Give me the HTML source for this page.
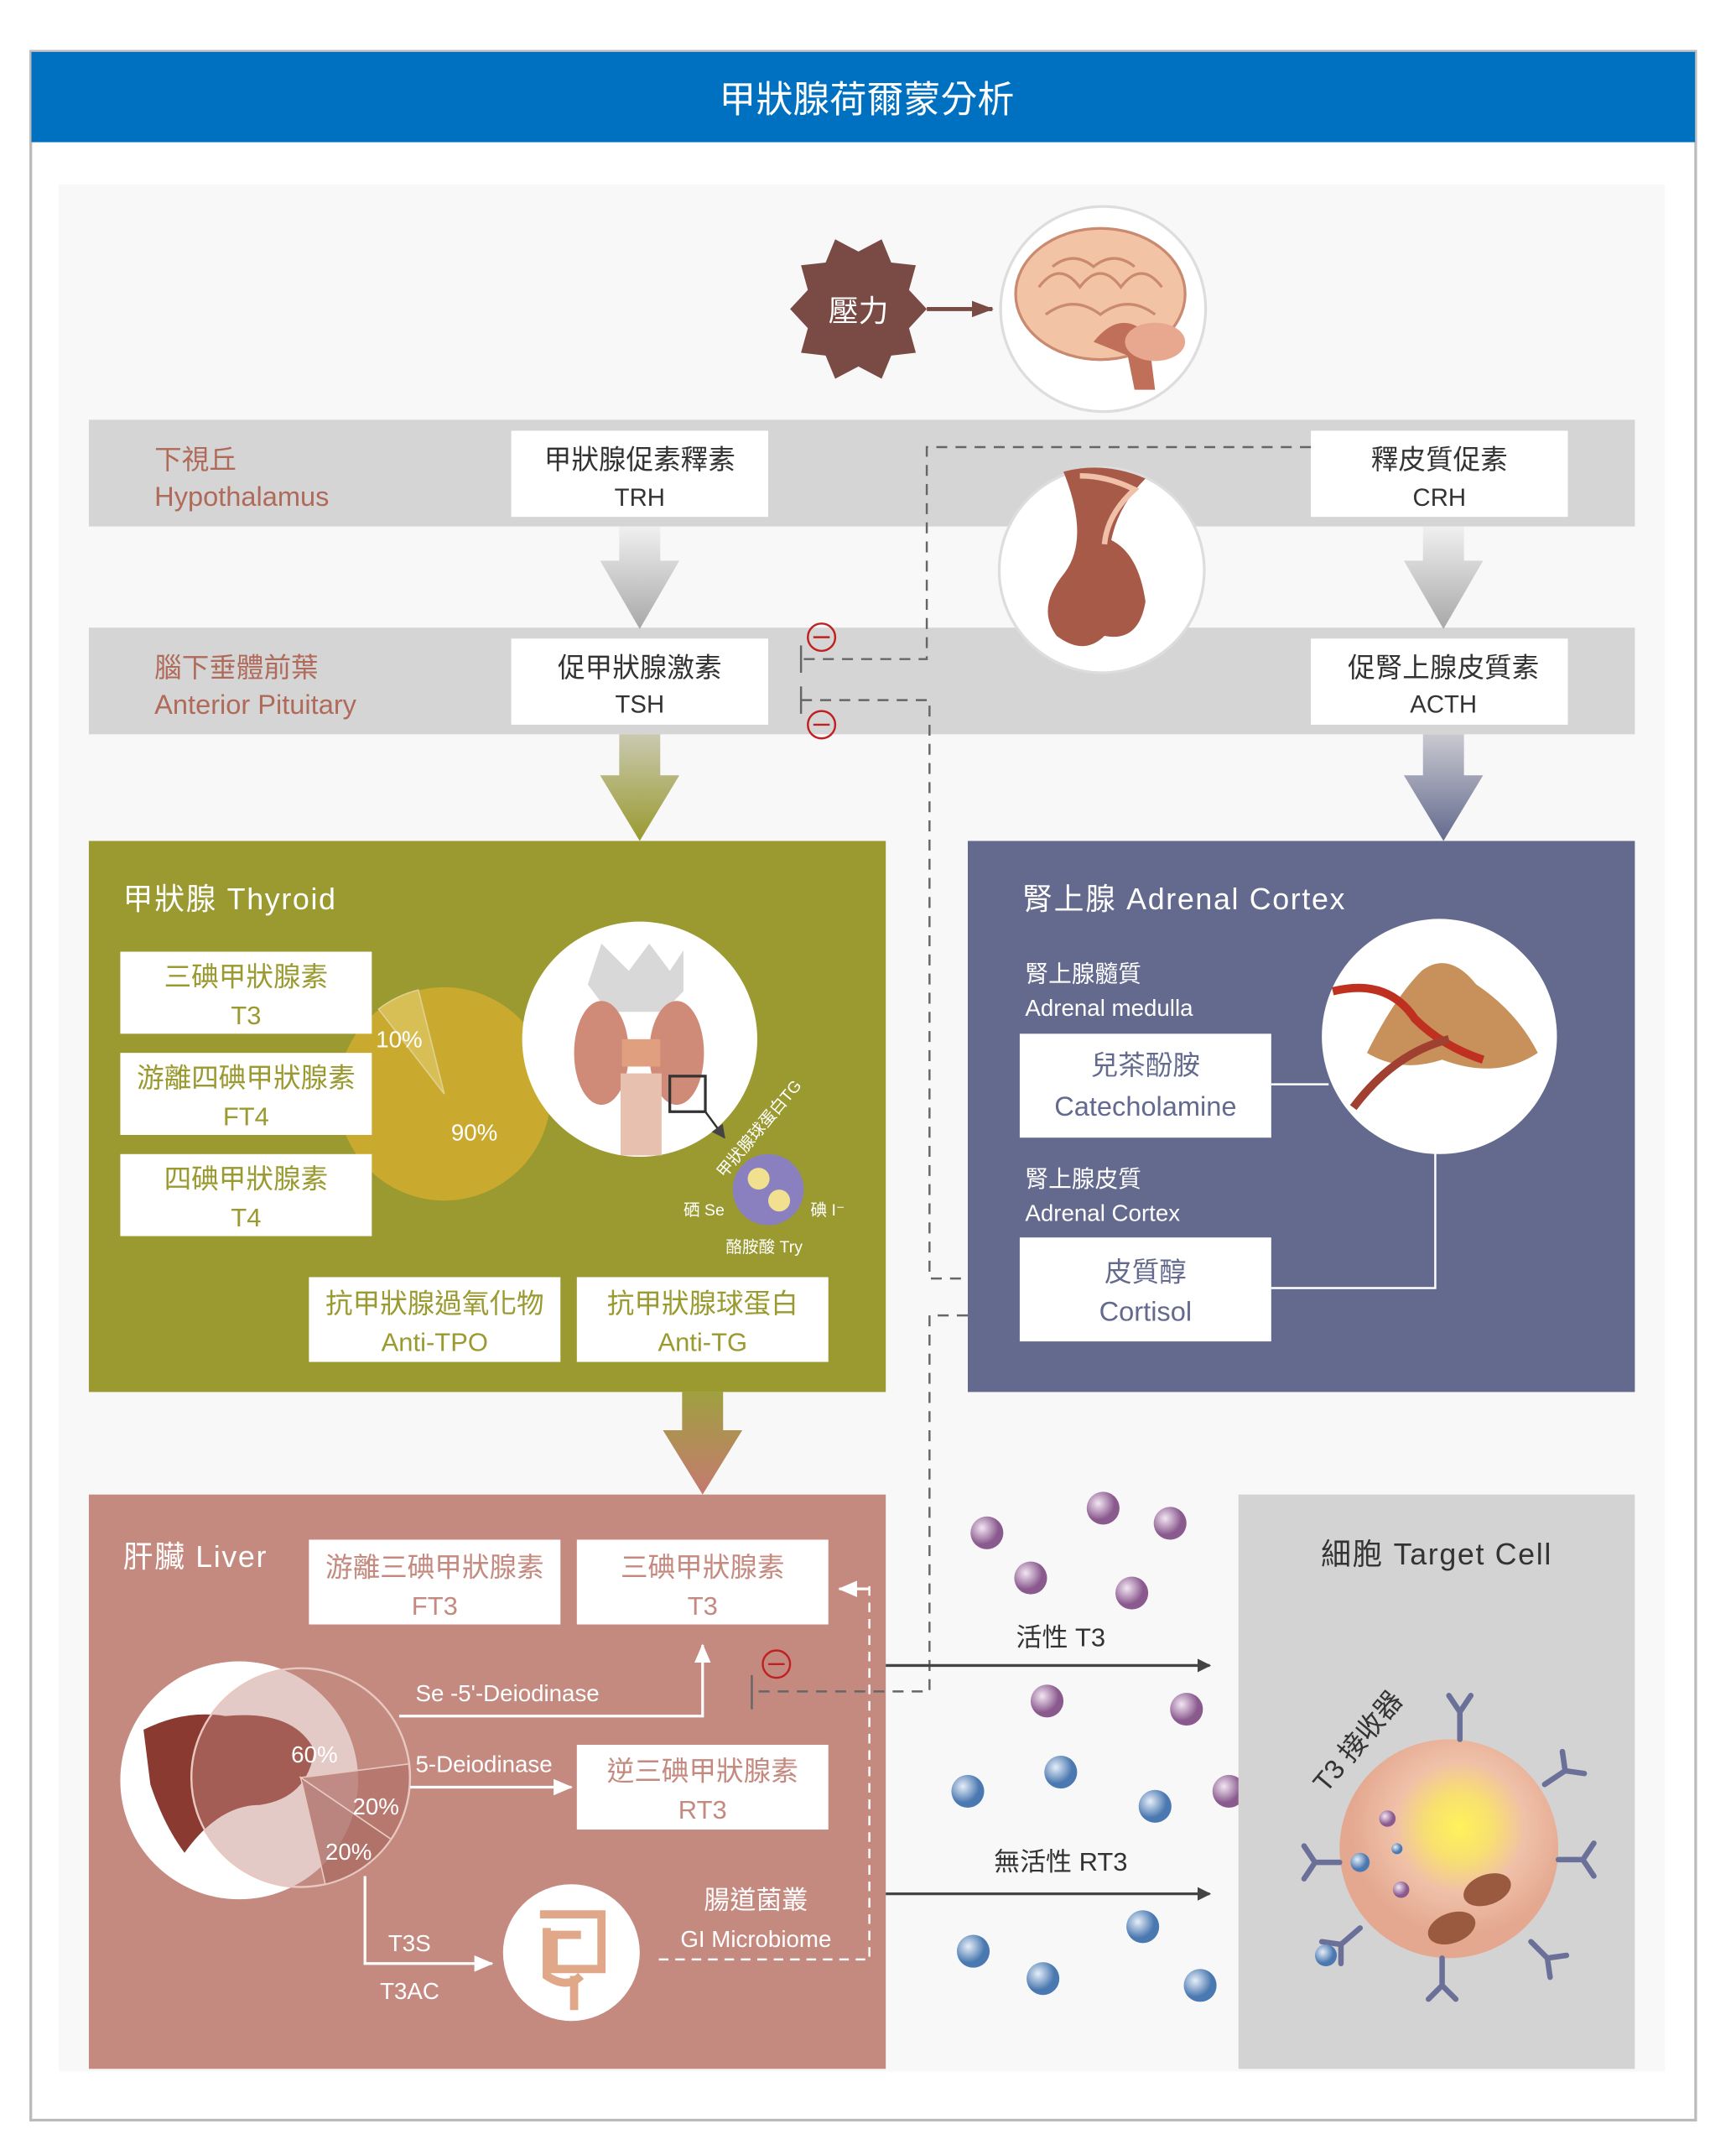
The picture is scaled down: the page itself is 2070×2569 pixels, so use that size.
<!DOCTYPE html>
<html><head><meta charset="utf-8"><style>
html,body{margin:0;padding:0;background:#fff}
svg{display:block}
text{font-family:"Liberation Sans","Noto Sans CJK TC",sans-serif}
</style></head><body>
<svg width="2070" height="2569" viewBox="0 0 1270 1576" preserveAspectRatio="none" xmlns="http://www.w3.org/2000/svg">
<defs>
<linearGradient id="g1" x1="0" y1="0" x2="0" y2="1"><stop offset="0" stop-color="#f0f0f0"/><stop offset="1" stop-color="#a8a8a8"/></linearGradient>
<linearGradient id="g2" x1="0" y1="0" x2="0" y2="1"><stop offset="0" stop-color="#c9c9b0"/><stop offset="1" stop-color="#9a9a30"/></linearGradient>
<linearGradient id="g3" x1="0" y1="0" x2="0" y2="1"><stop offset="0" stop-color="#c9c9d0"/><stop offset="1" stop-color="#636a8e"/></linearGradient>
<linearGradient id="g4" x1="0" y1="0" x2="0" y2="1"><stop offset="0" stop-color="#a0a040"/><stop offset="1" stop-color="#c47a70"/></linearGradient>
<radialGradient id="pp" cx="0.35" cy="0.35"><stop offset="0" stop-color="#f3e6f3"/><stop offset="1" stop-color="#8a5a8e"/></radialGradient>
<radialGradient id="bb" cx="0.35" cy="0.35"><stop offset="0" stop-color="#e6eef8"/><stop offset="1" stop-color="#4a78b0"/></radialGradient>
<radialGradient id="cell" cx="0.55" cy="0.4"><stop offset="0" stop-color="#fff25a"/><stop offset="0.3" stop-color="#f8e070"/><stop offset="0.6" stop-color="#f0c0a8"/><stop offset="1" stop-color="#e4a890"/></radialGradient>
<marker id="ah" markerWidth="10" markerHeight="10" refX="9" refY="5" orient="auto" markerUnits="userSpaceOnUse"><path d="M0,0 L10,5 L0,10 Z" fill="#444"/></marker>
<marker id="aw" markerWidth="14" markerHeight="12" refX="13" refY="6" orient="auto" markerUnits="userSpaceOnUse"><path d="M0,0 L14,6 L0,12 Z" fill="#fff"/></marker>
<marker id="ab" markerWidth="16" markerHeight="12" refX="15" refY="6" orient="auto" markerUnits="userSpaceOnUse"><path d="M0,0 L16,6 L0,12 Z" fill="#7a4a45"/></marker>
</defs>
<rect x="0" y="0" width="1270" height="1576" fill="#fff"/>
<rect x="22.5" y="37.5" width="1218" height="1513" fill="#fff" stroke="#bbb" stroke-width="2"/>
<rect x="23" y="38" width="1217" height="66" fill="#0070c0"/>
<text x="634" y="82" font-size="27" fill="#fff" text-anchor="middle">甲狀腺荷爾蒙分析</text>
<rect x="43" y="135" width="1175" height="1380" fill="#f8f8f8"/>

<polygon fill="#7a4a45" points="678,226 665,240 670,258 652,260 645,277 628,268 611,277 604,260 586,258 591,240 578,226 591,212 586,194 604,192 611,175 628,184 645,175 652,192 670,194 665,212"/>
<text x="628" y="235" font-size="22" fill="#fff" text-anchor="middle">壓力</text>
<line x1="678" y1="226" x2="726" y2="226" stroke="#7a4a45" stroke-width="3" marker-end="url(#ab)"/>
<circle cx="807" cy="226" r="75" fill="#fff" stroke="#ddd" stroke-width="2"/>
<ellipse cx="805" cy="215" rx="62" ry="48" fill="#f2c3a5" stroke="#c98a70" stroke-width="2"/>
<path d="M760,210 q15,-20 30,0 q15,-20 30,0 q15,-20 30,0 M765,230 q20,-15 40,0 q20,-15 40,0 M770,195 q15,-12 30,0 q15,-12 30,0" fill="none" stroke="#c98a70" stroke-width="2"/>
<path d="M800,250 q20,-25 40,-5 l5,40 l-15,0 l-5,-25 z" fill="#c07058"/>
<ellipse cx="845" cy="250" rx="22" ry="14" fill="#e8a890"/>

<rect x="65" y="307" width="1131" height="78" fill="#d5d5d5"/>
<rect x="65" y="459" width="1131" height="78" fill="#d5d5d5"/>
<text x="113" y="343" font-size="20" fill="#b06a5a">下視丘</text>
<text x="113" y="370" font-size="20" fill="#b06a5a">Hypothalamus</text>
<text x="113" y="495" font-size="20" fill="#b06a5a">腦下垂體前葉</text>
<text x="113" y="522" font-size="20" fill="#b06a5a">Anterior Pituitary</text>
<g font-size="20" fill="#333" text-anchor="middle">
<rect x="374" y="315" width="188" height="63" fill="#fff"/><text x="468" y="343">甲狀腺促素釋素</text><text x="468" y="370" font-size="18">TRH</text>
<rect x="959" y="315" width="188" height="63" fill="#fff"/><text x="1053" y="343">釋皮質促素</text><text x="1053" y="370" font-size="18">CRH</text>
<rect x="374" y="467" width="188" height="63" fill="#fff"/><text x="468" y="495">促甲狀腺激素</text><text x="468" y="521" font-size="18">TSH</text>
<rect x="959" y="467" width="188" height="63" fill="#fff"/><text x="1056" y="495">促腎上腺皮質素</text><text x="1056" y="521" font-size="18">ACTH</text>
</g>
<path d="M453,385 h30 v25 h14 l-29,50 l-29,-50 h14 z" fill="url(#g1)"/>
<path d="M1041,385 h30 v25 h14 l-29,50 l-29,-50 h14 z" fill="url(#g1)"/>
<path d="M453,537 h30 v30 h14 l-29,48 l-29,-48 h14 z" fill="url(#g2)"/>
<path d="M1041,537 h30 v30 h14 l-29,48 l-29,-48 h14 z" fill="url(#g3)"/>
<path d="M499,1018 h30 v28 h14 l-29,47 l-29,-47 h14 z" fill="url(#g4)"/>

<!-- thyroid -->
<rect x="65" y="615" width="583" height="403" fill="#9a9a30"/>
<text x="90" y="665" font-size="22" fill="#fff" letter-spacing="1">甲狀腺 Thyroid</text>
<circle cx="325" cy="800" r="78" fill="#c9aa2f"/>
<path d="M325,800 L277,738 A78,78 0 0 1 306,724 Z" fill="#d7bf55" stroke="#e0d090"/>
<text x="275" y="766" font-size="17" fill="#fff">10%</text>
<text x="330" y="834" font-size="17" fill="#fff">90%</text>
<g font-size="20" fill="#9a9a30" text-anchor="middle">
<rect x="88" y="696" width="184" height="60" fill="#fff"/><text x="180" y="721">三碘甲狀腺素</text><text x="180" y="749" font-size="19">T3</text>
<rect x="88" y="770" width="184" height="60" fill="#fff"/><text x="180" y="795">游離四碘甲狀腺素</text><text x="180" y="823" font-size="19">FT4</text>
<rect x="88" y="844" width="184" height="60" fill="#fff"/><text x="180" y="869">四碘甲狀腺素</text><text x="180" y="897" font-size="19">T4</text>
<rect x="226" y="934" width="184" height="62" fill="#fff"/><text x="318" y="960">抗甲狀腺過氧化物</text><text x="318" y="988" font-size="19">Anti-TPO</text>
<rect x="422" y="934" width="184" height="62" fill="#fff"/><text x="514" y="960">抗甲狀腺球蛋白</text><text x="514" y="988" font-size="19">Anti-TG</text>
</g>
<circle cx="468" cy="760" r="86" fill="#fff"/>
<path d="M440,690 l20,20 l15,-20 l15,20 l10,-15 v30 l-15,15 h-40 l-15,-20 z" fill="#d8d8d8"/>
<ellipse cx="440" cy="770" rx="20" ry="38" fill="#d08a78"/>
<ellipse cx="495" cy="770" rx="20" ry="38" fill="#d08a78"/>
<rect x="455" y="760" width="28" height="20" fill="#e0a080"/>
<rect x="454" y="785" width="30" height="60" fill="#e8c0b0"/>
<rect x="490" y="787" width="26" height="26" fill="none" stroke="#333" stroke-width="2"/>
<line x1="516" y1="813" x2="530" y2="832" stroke="#333" stroke-width="1.5" marker-end="url(#ah)"/>
<circle cx="562" cy="870" r="26" fill="#8a80c0"/>
<circle cx="555" cy="862" r="8" fill="#f0e090"/><circle cx="570" cy="878" r="8" fill="#f0e090"/>
<g font-size="12" fill="#fff"><text x="500" y="889">硒 Se</text><text x="593" y="889">碘 I⁻</text><text x="531" y="916">酪胺酸 Try</text>
<text x="530" y="862" transform="rotate(-50 530 862)">甲狀腺球蛋白TG</text></g>

<!-- adrenal -->
<rect x="708" y="615" width="488" height="403" fill="#636a8e"/>
<text x="748" y="665" font-size="22" fill="#fff" letter-spacing="1">腎上腺 Adrenal Cortex</text>
<g font-size="17" fill="#fff"><text x="750" y="718">腎上腺髓質</text><text x="750" y="743">Adrenal medulla</text><text x="750" y="868">腎上腺皮質</text><text x="750" y="893">Adrenal Cortex</text></g>
<g font-size="20" fill="#636a8e" text-anchor="middle">
<rect x="746" y="756" width="184" height="76" fill="#fff"/><text x="838" y="786">兒茶酚胺</text><text x="838" y="816">Catecholamine</text>
<rect x="746" y="905" width="184" height="76" fill="#fff"/><text x="838" y="937">皮質醇</text><text x="838" y="966">Cortisol</text>
</g>
<g fill="none" stroke="#fff" stroke-width="1.5"><line x1="930" y1="793" x2="972" y2="793"/><path d="M930,942 H1050 V840"/></g>
<circle cx="1053" cy="758" r="86" fill="#fff"/>
<path d="M1000,770 q20,-40 40,-60 q20,-15 40,10 q30,20 45,50 q-30,20 -70,5 q-30,10 -55,-5 z" fill="#c8905a"/>
<path d="M975,725 q40,-10 60,20 q20,20 50,30" fill="none" stroke="#c03020" stroke-width="6"/>
<path d="M990,810 q30,-40 70,-50" fill="none" stroke="#a04030" stroke-width="6"/>

<!-- liver -->
<rect x="65" y="1093" width="583" height="420" fill="#c48a80"/>
<text x="90" y="1146" font-size="22" fill="#fff" letter-spacing="1">肝臟 Liver</text>
<g font-size="20" fill="#c48a80" text-anchor="middle">
<rect x="226" y="1126" width="184" height="62" fill="#fff"/><text x="318" y="1153">游離三碘甲狀腺素</text><text x="318" y="1181" font-size="19">FT3</text>
<rect x="422" y="1126" width="184" height="62" fill="#fff"/><text x="514" y="1153">三碘甲狀腺素</text><text x="514" y="1181" font-size="19">T3</text>
<rect x="422" y="1276" width="184" height="62" fill="#fff"/><text x="514" y="1302">逆三碘甲狀腺素</text><text x="514" y="1330" font-size="19">RT3</text>
</g>
<circle cx="175" cy="1302" r="87" fill="#fff"/>
<path d="M105,1265 q30,-15 60,-10 q50,-5 65,25 q-5,35 -40,40 q-30,0 -55,35 q-15,-20 -25,-50 z" fill="#8a3a30"/>
<circle cx="220" cy="1300" r="80" fill="#c48a80" fill-opacity="0.45" stroke="#e8c8c0" stroke-width="1.5"/>
<path d="M220,1300 L299,1290 A80,80 0 0 1 286,1345 Z" fill="#b07068" fill-opacity="0.7" stroke="#e8c8c0"/>
<path d="M220,1300 L286,1345 A80,80 0 0 1 238,1378 Z" fill="#a86860" fill-opacity="0.7" stroke="#e8c8c0"/>
<g font-size="17" fill="#fff"><text x="213" y="1289">60%</text><text x="258" y="1327">20%</text><text x="238" y="1360">20%</text>
<text x="304" y="1244">Se -5'-Deiodinase</text><text x="304" y="1296">5-Deiodinase</text><text x="284" y="1427">T3S</text><text x="278" y="1462">T3AC</text>
<text x="553" y="1396" font-size="19" text-anchor="middle">腸道菌叢</text><text x="553" y="1424" text-anchor="middle">GI Microbiome</text></g>
<g fill="none" stroke="#fff" stroke-width="2">
<path d="M292,1255 H514 V1203" marker-end="url(#aw)"/>
<path d="M300,1307 H418" marker-end="url(#aw)"/>
<path d="M267,1372 V1436 H360" marker-end="url(#aw)"/>
</g>
<path d="M636,1162 H614" stroke="#fff" stroke-width="2" marker-end="url(#aw)"/>
<circle cx="418" cy="1428" r="50" fill="#fff"/>
<path d="M395,1400 h45 v40 h-35 v-25 h20 M400,1410 v35 q15,10 25,0 M420,1445 v25" fill="none" stroke="#e0a888" stroke-width="6"/>
<path d="M636,1160 V1433 H480" fill="none" stroke="#fff" stroke-width="1.5" stroke-dasharray="7,5"/>

<!-- dashed connectors (on top) -->
<g fill="none" stroke="#666" stroke-width="1.5" stroke-dasharray="8,6">
<path d="M959,327 H678 V482 H586"/>
<path d="M586,512 H680 V935 H708"/>
<path d="M708,962 H680 V1237 H552"/>
</g>
<g stroke="#666" stroke-width="1.5"><line x1="586" y1="472" x2="586" y2="492"/><line x1="586" y1="502" x2="586" y2="522"/><line x1="550" y1="1225" x2="550" y2="1250"/></g>
<g fill="none" stroke="#c02020" stroke-width="1.5"><circle cx="601" cy="466" r="10"/><line x1="595" y1="466" x2="607" y2="466"/><circle cx="601" cy="530" r="10"/><line x1="595" y1="530" x2="607" y2="530"/><circle cx="568" cy="1217" r="10"/><line x1="562" y1="1217" x2="574" y2="1217"/></g>

<circle cx="806" cy="417" r="75" fill="#fff" stroke="#ddd" stroke-width="2"/>
<path d="M778,345 q30,-8 60,5 q-20,20 -25,45 q20,10 25,45 q-5,30 -30,25 q-15,15 -35,0 q-15,-20 5,-45 q20,-25 0,-75 z" fill="#a85a48"/>
<path d="M790,348 q20,0 40,10 q-20,18 -22,40" fill="none" stroke="#f0c0a8" stroke-width="4"/>

<line x1="648" y1="1218" x2="885" y2="1218" stroke="#444" stroke-width="2" marker-end="url(#ah)"/>
<line x1="648" y1="1385" x2="885" y2="1385" stroke="#444" stroke-width="2" marker-end="url(#ah)"/>
<text x="776" y="1204" font-size="19" fill="#333" text-anchor="middle">活性 T3</text>
<text x="776" y="1368" font-size="19" fill="#333" text-anchor="middle">無活性 RT3</text>
<g fill="url(#pp)"><circle cx="722" cy="1121" r="12"/><circle cx="807" cy="1103" r="12"/><circle cx="856" cy="1114" r="12"/><circle cx="754" cy="1154" r="12"/><circle cx="828" cy="1165" r="12"/><circle cx="766" cy="1244" r="12"/><circle cx="868" cy="1250" r="12"/><circle cx="899" cy="1310" r="12"/><circle cx="935" cy="1330" r="8"/><circle cx="931" cy="1369" r="11"/></g>
<g fill="url(#bb)"><circle cx="708" cy="1310" r="12"/><circle cx="776" cy="1296" r="12"/><circle cx="845" cy="1321" r="12"/><circle cx="836" cy="1409" r="12"/><circle cx="712" cy="1427" r="12"/><circle cx="763" cy="1447" r="12"/><circle cx="878" cy="1452" r="12"/></g>

<rect x="906" y="1093" width="290" height="420" fill="#d3d3d3"/>
<text x="1051" y="1144" font-size="22" fill="#333" text-anchor="middle" letter-spacing="1">細胞 Target Cell</text>
<circle cx="1060" cy="1352" r="80" fill="url(#cell)"/>
<text x="970" y="1312" font-size="20" fill="#333" transform="rotate(-50 970 1312)">T3 接收器</text>
<g fill="none" stroke="#6a7098" stroke-width="4" stroke-linecap="round">
<path d="M1068,1272 v-20 m0,0 l-8,-12 m8,12 l8,-12"/>
<path d="M1130,1305 l15,-10 m0,0 l-2,-14 m2,14 l14,2"/>
<path d="M1140,1360 l18,0 m0,0 l8,-12 m-8,12 l8,12"/>
<path d="M1120,1420 l12,12 m0,0 l14,-2 m-14,2 l2,14"/>
<path d="M1055,1432 v20 m0,0 l-10,10 m10,-10 l10,10"/>
<path d="M995,1410 l-14,12 m0,0 l-14,-2 m14,2 l0,14"/>
<path d="M980,1362 l-18,0 m0,0 l-8,-12 m8,12 l-8,12"/>
</g>
<g fill="url(#bb)"><circle cx="995" cy="1362" r="7"/><circle cx="970" cy="1430" r="8"/><circle cx="1022" cy="1352" r="4"/></g>
<g fill="url(#pp)"><circle cx="1015" cy="1330" r="6"/><circle cx="1025" cy="1382" r="6"/></g>
<ellipse cx="1088" cy="1382" rx="18" ry="11" fill="#9a5a40" transform="rotate(-20 1088 1382)"/>
<ellipse cx="1062" cy="1410" rx="18" ry="11" fill="#9a5a40" transform="rotate(-20 1062 1410)"/>
</svg>
</body></html>
